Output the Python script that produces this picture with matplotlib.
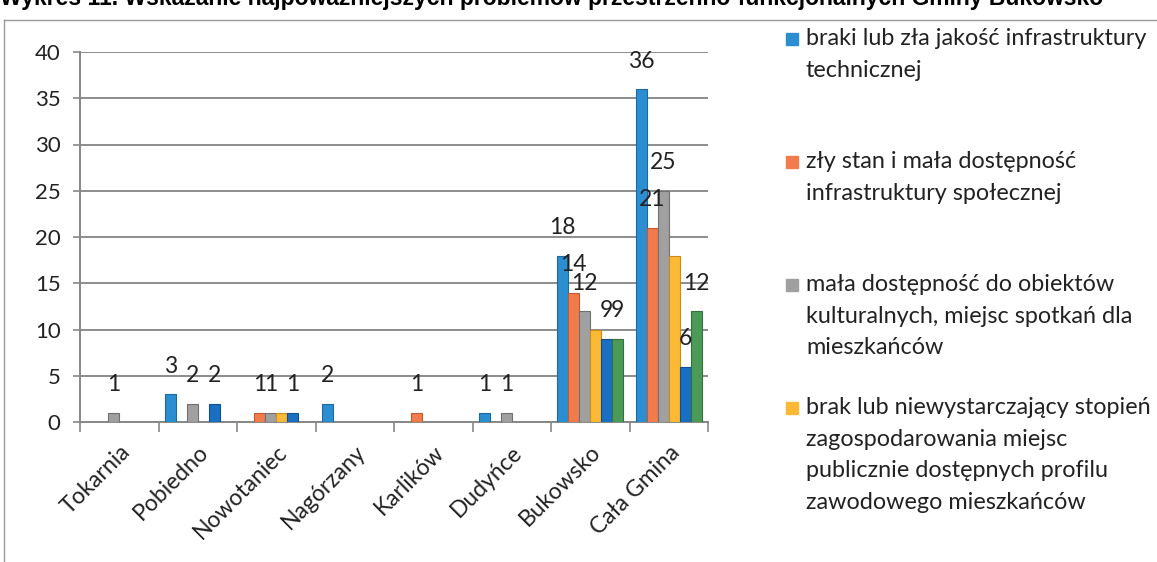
import matplotlib.pyplot as plt
import numpy as np
from matplotlib.lines import Line2D
from matplotlib.patches import Rectangle

# data
places = ['Tokarnia', 'Pobiedno', 'Nowotaniec', 'Nagórzany', 'Karlików',
          'Dudyńce', 'Bukowsko', 'Cała Gmina']
tech_infra = [0, 3, 0, 2, 0, 1, 18, 36]
social_infra = [0, 0, 1, 0, 1, 0, 14, 21]
culture_access = [1, 2, 1, 0, 0, 1, 12, 25]
public_spaces = [0, 0, 1, 0, 0, 0, 10, 18]
series5 = [0, 2, 1, 0, 0, 0, 9, 6]
series6 = [0, 0, 0, 0, 0, 0, 9, 12]

legend_labels = [
    'braki lub zła jakość infrastruktury\ntechnicznej',
    'zły stan i mała dostępność\ninfrastruktury społecznej',
    'mała dostępność do obiektów\nkulturalnych, miejsc spotkań dla\nmieszkańców',
    'brak lub niewystarczający stopień\nzagospodarowania miejsc\npublicznie dostępnych profilu\nzawodowego mieszkańców',
]

series = [tech_infra, social_infra, culture_access, public_spaces, series5, series6]
colors = ['#2b8ed0', '#f27b4b', '#a0a0a0', '#fbb935', '#1a6fc2', '#4c9a58']
edges = ['#1c6aa0', '#c05a30', '#707070', '#c88d1c', '#11508e', '#357040']
labelled = [True, True, True, False, True, True]

plt.rcParams['font.family'] = ['Lato', 'DejaVu Sans']

fig = plt.figure(figsize=(11.57, 5.62), dpi=100)
ax = fig.add_axes([80 / 1157, 1 - 422 / 562, 628 / 1157, 370 / 562])

x = np.arange(len(places))
w = 0.14
for i, vals in enumerate(series):
    pos = x + (i - 2.5) * w
    v = np.array(vals)
    mask = v > 0
    ax.bar(pos[mask], v[mask], w, color=colors[i], edgecolor=edges[i],
           linewidth=0.8, zorder=3)
    if labelled[i]:
        for px, val in zip(pos[mask], v[mask]):
            ax.annotate(str(val), (px, val), xytext=(0, 20),
                        textcoords='offset points', ha='center', va='center',
                        fontsize=16.5, color='#222222', zorder=4)

ax.set_xlim(-0.5, len(places) - 0.5)
ax.set_ylim(0, 40)
ax.set_yticks(range(0, 41, 5))
ax.tick_params(axis='y', labelsize=16, colors='#888888', labelcolor='#222222',
               length=5, width=1.2, pad=9)
ax.set_xticks(x)
ax.set_xticklabels(places, rotation=45, ha='right', rotation_mode='anchor',
                   fontsize=16.5, color='#222222')
ax.tick_params(axis='x', which='major', length=0, pad=14)
ax.set_xticks(np.arange(-0.5, len(places), 1), minor=True)
ax.tick_params(axis='x', which='minor', length=7, width=1.2, colors='#888888')

ax.yaxis.grid(True, color='#8c8c8c', linewidth=1.4, zorder=0)
ax.set_axisbelow(True)
for s in ['top', 'right']:
    ax.spines[s].set_visible(False)
for s in ['left', 'bottom']:
    ax.spines[s].set_color('#888888')
    ax.spines[s].set_linewidth(1.4)

# legend, drawn by hand to keep the uneven spacing of the original
legend_y = [39, 162, 285, 408]
for i, (lab, ly) in enumerate(zip(legend_labels, legend_y)):
    fig.patches.append(Rectangle((786 / 1157, 1 - (ly + 6) / 562), 12 / 1157, 12 / 562,
                                 transform=fig.transFigure, color=colors[i]))
    fig.text(806 / 1157, 1 - (ly - 11) / 562, lab, fontsize=16.8, va='top', ha='left',
             color='#222222', linespacing=1.62)

# outer frame of the chart object
fig.add_artist(Line2D([4 / 1157, 4 / 1157], [0, 1 - 20 / 562], color='#999999', lw=1))
fig.add_artist(Line2D([4 / 1157, 1], [1 - 20 / 562, 1 - 20 / 562], color='#999999', lw=1))

# title, cut off at the top edge as in the scan
fig.text(0, 1 - 5 / 562,
         'Wykres 11. Wskazanie najpoważniejszych problemów przestrzenno-funkcjonalnych Gminy Bukowsko',
         fontsize=16.5, fontweight='bold', family='Liberation Sans', va='baseline', ha='left')

plt.savefig('out.png', dpi=100)
